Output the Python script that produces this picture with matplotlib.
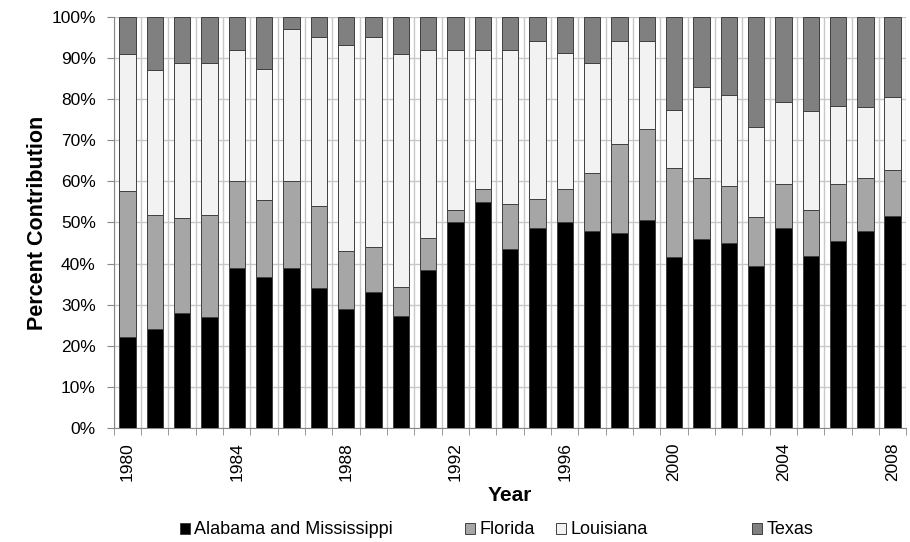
import matplotlib.pyplot as plt
import numpy as np

plt.rcParams['font.family'] = ['Liberation Sans', 'DejaVu Sans']

years = list(range(1980, 2009))

# percent contribution per state group
alabama_miss = [22.1, 24.0, 27.9, 27.0, 38.9, 36.8, 38.9, 34.1, 28.9, 33.0,
                27.3, 38.5, 50.0, 55.1, 43.6, 48.6, 50.0, 48.0, 47.5, 50.6,
                41.5, 46.0, 45.1, 39.5, 48.6, 41.9, 45.6, 48.0, 51.5]
florida = [35.5, 27.8, 23.1, 24.8, 21.1, 18.7, 21.1, 20.0, 14.2, 11.0,
           7.0, 7.8, 3.0, 3.0, 10.9, 7.0, 8.1, 14.0, 21.7, 22.2,
           21.7, 14.9, 13.8, 11.9, 10.8, 11.1, 13.8, 12.9, 11.2]
louisiana = [33.3, 35.2, 37.8, 37.0, 32.0, 31.7, 37.1, 40.9, 50.0, 51.0,
             56.6, 45.7, 39.0, 33.9, 37.5, 38.4, 33.0, 26.8, 24.8, 21.2,
             14.1, 22.0, 22.0, 21.8, 19.8, 24.0, 18.9, 17.2, 17.9]
texas = [9.1, 13.0, 11.2, 11.2, 8.0, 12.8, 2.9, 5.0, 6.9, 5.0,
         9.1, 8.0, 8.0, 8.0, 8.0, 6.0, 8.9, 11.2, 6.0, 6.0,
         22.7, 17.1, 19.1, 26.8, 20.8, 23.0, 21.7, 21.9, 19.4]

series = [('Alabama and Mississippi', alabama_miss, '#000000'),
          ('Florida', florida, '#a6a6a6'),
          ('Louisiana', louisiana, '#f2f2f2'),
          ('Texas', texas, '#808080')]

fig = plt.figure(figsize=(9.1, 5.42), dpi=100)
ax = fig.add_axes([0.125, 0.21, 0.871, 0.759])

x = np.arange(len(years))
bottom = np.zeros(len(years))
handles = []
for name, vals, col in series:
    vals = np.array(vals)
    b = ax.bar(x, vals, 0.6, bottom=bottom, color=col, edgecolor='#404040',
               linewidth=0.7, label=name, zorder=3)
    handles.append(b)
    bottom += vals

ax.set_xlim(-0.5, len(years) - 0.5)
ax.set_ylim(0, 100)

# y axis
ax.set_yticks(np.arange(0, 101, 10))
ax.set_yticklabels(['%d%%' % v for v in range(0, 101, 10)], fontsize=12.5)
ax.yaxis.grid(True, color='#c8c8c8', linewidth=1, zorder=0)
ax.tick_params(axis='y', length=5, color='#888888', pad=8)

# x axis: labels every 4 years, boundaries as minor ticks/grid
lab_idx = [i for i, y in enumerate(years) if (y - 1980) % 4 == 0]
ax.set_xticks(lab_idx)
ax.set_xticklabels([str(years[i]) for i in lab_idx], rotation=90, fontsize=12.5)
ax.set_xticks(np.arange(-0.5, len(years), 1), minor=True)
ax.tick_params(axis='x', which='major', length=0, pad=10)
ax.tick_params(axis='x', which='minor', length=5, color='#888888')
ax.xaxis.grid(True, which='minor', color='#c8c8c8', linewidth=1, zorder=0)
ax.set_axisbelow(True)

for s in ['top', 'right']:
    ax.spines[s].set_visible(False)
for s in ['left', 'bottom']:
    ax.spines[s].set_color('#888888')

ax.set_ylabel('Percent Contribution', fontsize=15.5, fontweight='bold', labelpad=2.5)
ax.set_xlabel('Year', fontsize=15, fontweight='bold', labelpad=3.5)

# legend entries placed like the original
leg_x = [180, 465, 556, 752]
for h, (name, _, _), lx in zip(handles, series, leg_x):
    leg = fig.legend(handles=[h], labels=[name], loc='center left',
                     bbox_to_anchor=(lx / 910, 1 - 530 / 542), frameon=False,
                     fontsize=13, handlelength=0.55, handleheight=0.55,
                     handletextpad=0.25, borderpad=0, borderaxespad=0)

fig.savefig('out.png', dpi=100)
